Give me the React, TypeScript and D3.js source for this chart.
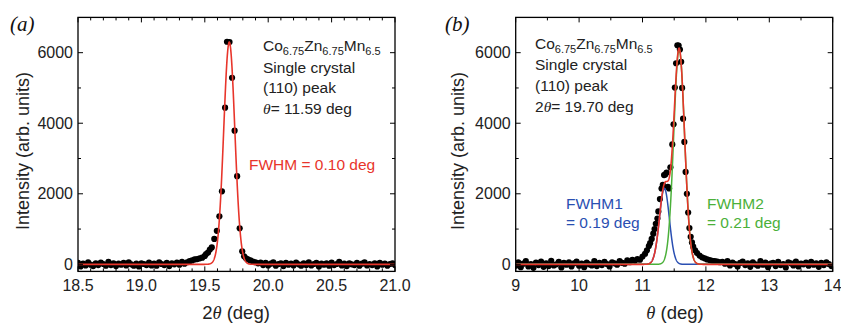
import React from "react";
import * as d3 from "d3";

const W = 841;
const H = 326;

// ---------- Panel (a): 2θ scan ----------
const aBgStep = 0.02;
const aBgLeftStart = 18.5;
const aBgLeft = [40, -60, 20, -30, 60, -10, -50, 30, -20, 50, 10, -40, 70, -20, 30, -50, 20, -10, 40, -30, 60, 0, -40, 20, -60, 30, 10, -20, 50, -30, 20, -40, 60, 10, -20, 40, -50, 30, 0, 50, -10, 70, 20, 60, 90, 110, 140, 150];
const aPeakX = [19.46, 19.48, 19.5, 19.51, 19.525, 19.54, 19.555, 19.575, 19.595, 19.615, 19.635, 19.66, 19.675, 19.695, 19.715, 19.735, 19.755, 19.775, 19.795, 19.81, 19.825, 19.84];
const aPeakY = [170, 190, 240, 290, 330, 420, 480, 720, 950, 1360, 2070, 4440, 6310, 6300, 5290, 3790, 2500, 1020, 370, 230, 170, 140];
const aBgRightStart = 19.86;
const aBgRight = [110, 80, 60, 30, 50, -20, 40, -30, 20, 60, -40, 10, 30, -50, 40, -10, 20, -30, 50, 0, -40, 30, -20, 60, -30, 10, 40, -60, 20, -10, 30, -40, 50, -20, 10, 70, -30, 20, -50, 30, 0, -20, 40, -40, 20, 60, -30, 10, -20, 30, -60, 40, -10, 20, -40, 10, 30, -20];
const aFitCenter = [19.693];
const aFitFwhm = [0.103];
const aFitAmp = [6300];
const aXTicks = [18.5, 19.0, 19.5, 20.0, 20.5, 21.0];

// ---------- Panel (b): θ scan ----------
const bBgStep = 0.04;
const bBgLeftStart = 9.0;
const bBgLeft = [-40, 60, -80, 20, 90, -60, 10, -100, 50, -20, 80, -70, 30, -50, 100, -30, 0, 70, -90, 40, -10, 60, -60, 30, 80, -40, 20, -80, 50, 0, -30, 90, -50, 40, -20, 70, 10, -60, 60, 30, -10, 90, 40, 20, 110, 60, 130, 100];
const bPeakX = [10.92, 10.96, 11.0, 11.04, 11.07, 11.1, 11.12, 11.145, 11.17, 11.19, 11.21, 11.235, 11.25, 11.275, 11.3, 11.32, 11.34, 11.36, 11.38, 11.4, 11.42, 11.44, 11.47, 11.49, 11.51, 11.53, 11.55, 11.57, 11.59, 11.61, 11.625, 11.64, 11.66, 11.68, 11.7, 11.72, 11.74, 11.76, 11.78, 11.8, 11.83, 11.86, 11.9, 11.94, 11.98, 12.02, 12.06, 12.1, 12.14, 12.18, 12.22];
const bPeakY = [150, 130, 220, 300, 400, 520, 600, 720, 870, 1000, 1150, 1300, 1500, 1850, 2150, 2250, 2530, 2550, 2600, 2200, 2150, 2750, 3400, 3970, 5010, 5700, 6210, 6200, 6090, 5740, 5000, 4130, 3470, 2620, 2000, 1470, 1030, 780, 620, 500, 400, 320, 250, 200, 170, 140, 120, 100, 90, 80, 60];
const bBgRightStart = 12.26;
const bBgRight = [70, 20, 90, -30, 50, 10, -60, 40, 80, -20, 30, -70, 60, 0, -40, 90, -10, 50, -80, 20, 40, -50, 70, -20, 10, -90, 60, 30, -30, 80, -60, 20, 0, 50, -40, 70, -10, 30, -70, 40, -20, 60, 10, -50];
const bFitCenters = [11.345, 11.578];
const bFitFwhm = [0.185, 0.2];
const bFitAmp = [2150, 6100];
const bXTicks = [9, 10, 11, 12, 13, 14];

const yTicks = [0, 2000, 4000, 6000];
const yMinor = [1000, 3000, 5000];

const RED = "#e8352b";
const BLUE = "#2a4fb2";
const GREEN = "#4bb03a";
const SANS = "'Liberation Sans', Arial, sans-serif";
const SERIF = "'Liberation Serif', 'Times New Roman', serif";

type Pt = [number, number];

function buildPoints(leftStart: number, left: number[], step: number, px: number[], py: number[], rightStart: number, right: number[]): Pt[] {
  const pts: Pt[] = [];
  left.forEach((v, i) => pts.push([leftStart + i * step, v]));
  px.forEach((x, i) => pts.push([x, py[i]]));
  right.forEach((v, i) => pts.push([rightStart + i * step, v]));
  return pts;
}

function gauss(x: number, c: number, fwhm: number, amp: number) {
  return amp * Math.exp((-4 * Math.LN2 * (x - c) * (x - c)) / (fwhm * fwhm));
}

type PanelProps = {
  x0: number;
  x1: number;
  xDomain: [number, number];
  xTicks: number[];
  xMinorStep: number;
  xFmt: (v: number) => string;
  points: Pt[];
  fits: { c: number; w: number; a: number; color: string }[];
  showComponents: boolean;
};

const Y_TOP = 17.4;
const Y_BOT = 271.4;

function Panel(p: PanelProps) {
  const x = d3.scaleLinear().domain(p.xDomain).range([p.x0, p.x1]);
  const y = d3.scaleLinear().domain([-200, 7000]).range([Y_BOT, Y_TOP]);
  const [d0, d1] = p.xDomain;
  const n = Math.round((d1 - d0) / p.xMinorStep);
  const minor = d3.range(n + 1).map((i) => d0 + i * p.xMinorStep);
  const xs = d3.range(0, 2001).map((i) => d0 + ((d1 - d0) * i) / 2000);
  const line = d3
    .line<Pt>()
    .x((d) => x(d[0]))
    .y((d) => y(d[1]));
  const total: Pt[] = xs.map((xx) => [xx, p.fits.reduce((s, f) => s + gauss(xx, f.c, f.w, f.a), 0)]);
  const comps = p.fits.map((f) => xs.map((xx) => [xx, gauss(xx, f.c, f.w, f.a)] as Pt));
  const clipId = "clip" + Math.round(p.x0);
  const isMajor = (v: number) => p.xTicks.some((t) => Math.abs(t - v) < 1e-6);
  return (
    <g>
      <defs>
        <clipPath id={clipId}>
          <rect x={p.x0} y={Y_TOP} width={p.x1 - p.x0} height={Y_BOT - Y_TOP} />
        </clipPath>
      </defs>
      <g clipPath={`url(#${clipId})`}>
        {p.points.map((d, i) => (
          <circle key={i} cx={x(d[0])} cy={y(d[1])} r={3.1} fill="#000" />
        ))}
        {p.showComponents &&
          comps.map((c, i) => (
            <path key={i} d={line(c) || ""} fill="none" stroke={p.fits[i].color} strokeWidth={1.5} />
          ))}
        <path d={line(total) || ""} fill="none" stroke={RED} strokeWidth={1.6} />
      </g>
      {/* x ticks top and bottom */}
      {minor.map((v, i) => {
        const len = isMajor(v) ? 5 : 3;
        return (
          <g key={i} stroke="#000" strokeWidth={1}>
            <line x1={x(v)} x2={x(v)} y1={Y_BOT} y2={Y_BOT - len} />
            <line x1={x(v)} x2={x(v)} y1={Y_TOP} y2={Y_TOP + len} />
          </g>
        );
      })}
      {yTicks.concat(yMinor).map((v, i) => {
        const len = yTicks.includes(v) ? 5 : 3;
        return (
          <g key={"y" + i} stroke="#000" strokeWidth={1}>
            <line x1={p.x0} x2={p.x0 + len} y1={y(v)} y2={y(v)} />
            <line x1={p.x1} x2={p.x1 - len} y1={y(v)} y2={y(v)} />
          </g>
        );
      })}
      <rect x={p.x0} y={Y_TOP} width={p.x1 - p.x0} height={Y_BOT - Y_TOP} fill="none" stroke="#000" strokeWidth={1.3} />
      {p.xTicks.map((v, i) => (
        <text key={i} x={x(v)} y={291} textAnchor="middle" fontFamily={SANS} fontSize={16} fill="#222">
          {p.xFmt(v)}
        </text>
      ))}
      {yTicks.map((v, i) => (
        <text key={i} x={p.x0 - 5} y={y(v) + 5.5} textAnchor="end" fontFamily={SANS} fontSize={16} fill="#222">
          {v}
        </text>
      ))}
    </g>
  );
}

function Formula({ x, y }: { x: number; y: number }) {
  return (
    <text x={x} y={y} fontFamily={SANS} fontSize={15.5} fill="#222">
      Co<tspan fontSize={11} dy={4}>6.75</tspan>
      <tspan dy={-4}>Zn</tspan>
      <tspan fontSize={11} dy={4}>6.75</tspan>
      <tspan dy={-4}>Mn</tspan>
      <tspan fontSize={11} dy={4}>6.5</tspan>
    </text>
  );
}

export default function App() {
  const aPoints = buildPoints(aBgLeftStart, aBgLeft, aBgStep, aPeakX, aPeakY, aBgRightStart, aBgRight);
  const bPoints = buildPoints(bBgLeftStart, bBgLeft, bBgStep, bPeakX, bPeakY, bBgRightStart, bBgRight);
  const aFits = aFitCenter.map((c, i) => ({ c, w: aFitFwhm[i], a: aFitAmp[i], color: RED }));
  const bColors = [BLUE, GREEN];
  const bFits = bFitCenters.map((c, i) => ({ c, w: bFitFwhm[i], a: bFitAmp[i], color: bColors[i] }));
  return (
    <svg width={W} height={H} style={{ position: "absolute", left: 0, top: 0, background: "#fff" }}>
      <Panel
        x0={78}
        x1={395}
        xDomain={[18.5, 21.0]}
        xTicks={aXTicks}
        xMinorStep={0.1}
        xFmt={(v) => v.toFixed(1)}
        points={aPoints}
        fits={aFits}
        showComponents={false}
      />
      <Panel
        x0={515.7}
        x1={832.7}
        xDomain={[9, 14]}
        xTicks={bXTicks}
        xMinorStep={0.5}
        xFmt={(v) => String(v)}
        points={bPoints}
        fits={bFits}
        showComponents={true}
      />
      {/* panel labels */}
      <text x={10} y={31} fontFamily={SERIF} fontStyle="italic" fontSize={21} fill="#111">(a)</text>
      <text x={445} y={31} fontFamily={SERIF} fontStyle="italic" fontSize={21} fill="#111">(b)</text>
      {/* axis titles */}
      <text transform="translate(29,151) rotate(-90)" textAnchor="middle" fontFamily={SANS} fontSize={18} fill="#222">
        Intensity (arb. units)
      </text>
      <text transform="translate(464,151) rotate(-90)" textAnchor="middle" fontFamily={SANS} fontSize={18} fill="#222">
        Intensity (arb. units)
      </text>
      <text x={236} y={319} textAnchor="middle" fontFamily={SANS} fontSize={18.5} fill="#222">
        2<tspan fontFamily={SERIF} fontStyle="italic">θ</tspan> (deg)
      </text>
      <text x={675} y={319} textAnchor="middle" fontFamily={SANS} fontSize={18.5} fill="#222">
        <tspan fontFamily={SERIF} fontStyle="italic">θ</tspan> (deg)
      </text>
      {/* panel (a) annotations */}
      <Formula x={263} y={51} />
      <text x={263} y={73} fontFamily={SANS} fontSize={15.5} fill="#222">Single crystal</text>
      <text x={263} y={93} fontFamily={SANS} fontSize={15.5} fill="#222">(110) peak</text>
      <text x={263} y={114} fontFamily={SANS} fontSize={15.5} fill="#222">
        <tspan fontFamily={SERIF} fontStyle="italic">θ</tspan>= 11.59 deg
      </text>
      <text x={249} y={170} fontFamily={SANS} fontSize={15.5} fill={RED}>FWHM = 0.10 deg</text>
      {/* panel (b) annotations */}
      <Formula x={535} y={49} />
      <text x={535} y={70} fontFamily={SANS} fontSize={15.5} fill="#222">Single crystal</text>
      <text x={535} y={91} fontFamily={SANS} fontSize={15.5} fill="#222">(110) peak</text>
      <text x={535} y={112} fontFamily={SANS} fontSize={15.5} fill="#222">
        2<tspan fontFamily={SERIF} fontStyle="italic">θ</tspan>= 19.70 deg
      </text>
      <text x={566} y={209} fontFamily={SANS} fontSize={15.5} fill={BLUE}>FWHM1</text>
      <text x={566} y={228} fontFamily={SANS} fontSize={15.5} fill={BLUE}>= 0.19 deg</text>
      <text x={707} y={209} fontFamily={SANS} fontSize={15.5} fill={GREEN}>FWHM2</text>
      <text x={707} y={228} fontFamily={SANS} fontSize={15.5} fill={GREEN}>= 0.21 deg</text>
    </svg>
  );
}
